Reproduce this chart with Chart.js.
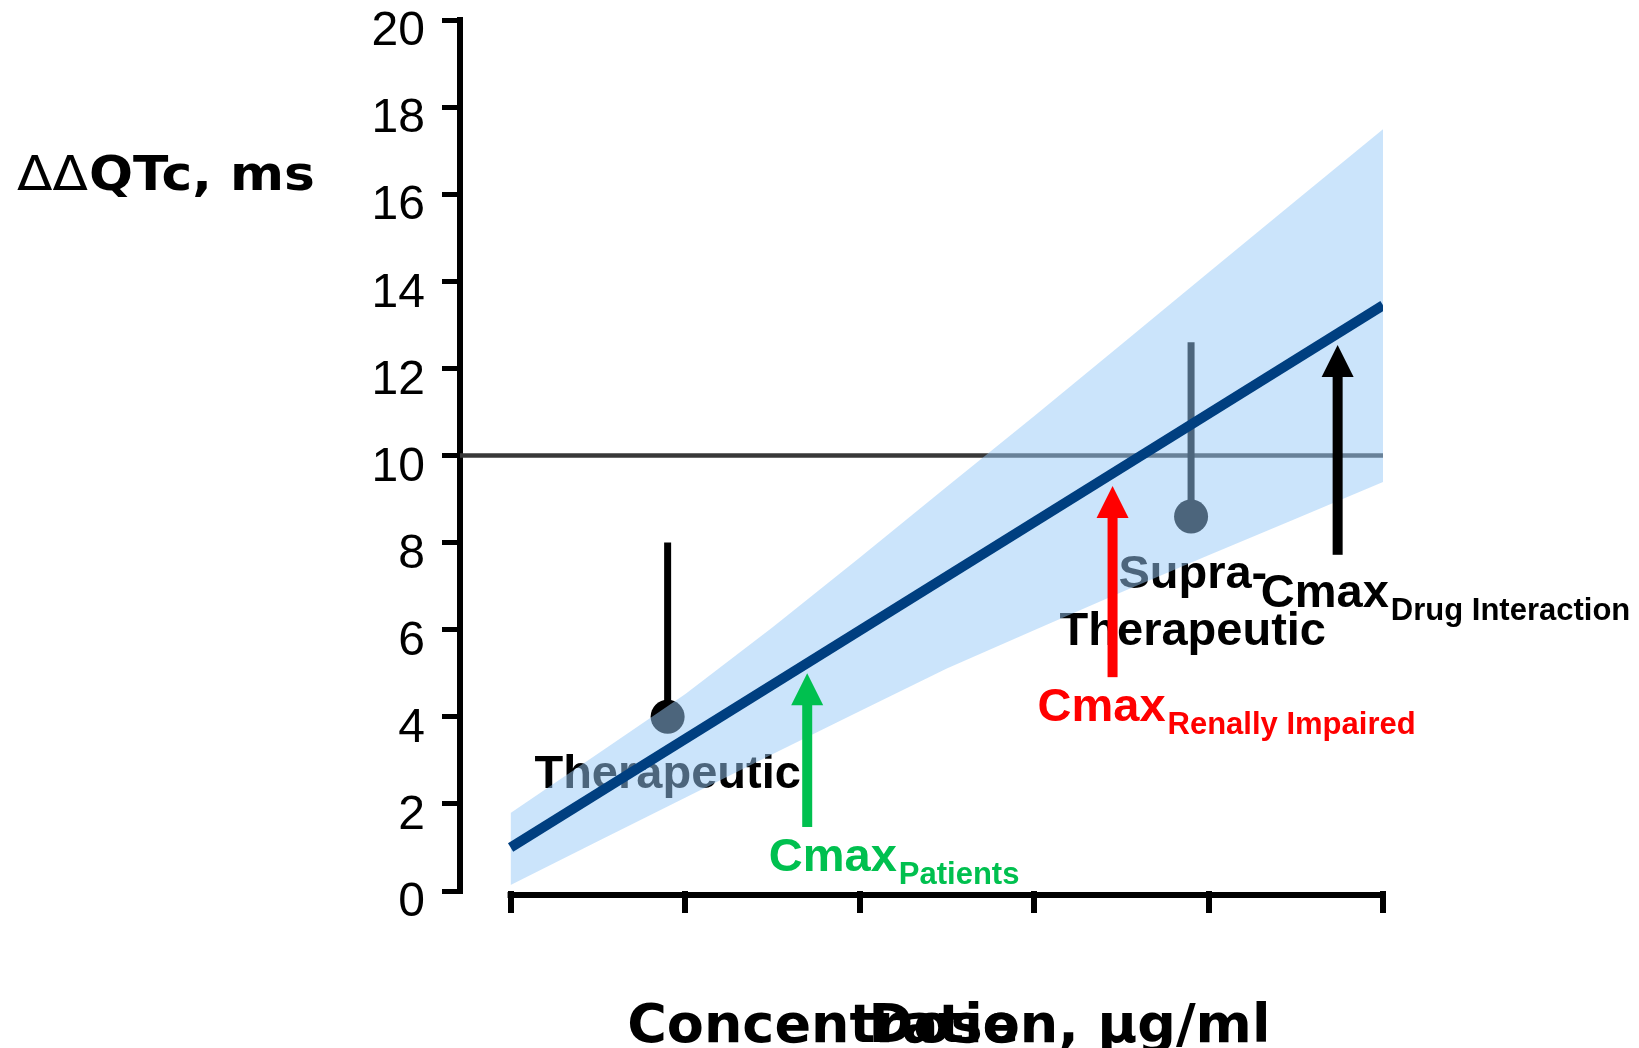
<!DOCTYPE html>
<html lang="en">
<head>
  <meta charset="UTF-8">
  <title>ΔΔQTc vs concentration</title>
  <style>
    html, body {
      margin: 0;
      padding: 0;
      background: #fff;
    }
    #wrap {
      width: 1639px;
      height: 1048px;
      position: relative;
    }
  </style>
</head>
<body>
  <div id="wrap"><canvas id="qtcChart"></canvas></div>

  <script src="https://cdn.jsdelivr.net/npm/chart.js"></script>
  <script>
    // axes: concentration has unlabelled ticks, ΔΔQTc in ms
    const xMin = -0.29;
    const xTicks = [0, 1, 2, 3, 4, 5];
    const yTicks = [0, 2, 4, 6, 8, 10, 12, 14, 16, 18, 20];

    // regression line and its confidence band
    const fitX = [0, 5];
    const fitY = [1.0, 13.45];
    const bandX = [0, 0.5, 1, 1.5, 2, 2.5, 3, 3.5, 4, 4.5, 5];
    const bandUpper = [1.79, 3.15, 4.52, 6.05, 7.65, 9.28, 10.90, 12.55, 14.20, 15.85, 17.49];
    const bandLower = [0.14, 1.14, 2.14, 3.14, 4.13, 5.11, 5.99, 6.86, 7.71, 8.55, 9.39];

    // 10 ms threshold
    const thresholdY = 10;

    // observed means with upper error bar
    const obsX = [0.9, 3.9];
    const obsY = [4.0, 8.6];
    const obsTop = [8.0, 12.6];

    // exposure labels under the band
    const exposureText = ['Therapeutic', 'Supra-', 'Therapeutic'];
    const exposureX = [0.9, 3.91, 3.91];
    const exposureY = [2.37, 6.96, 5.65];

    // Cmax arrows
    const cmaxSub = ['Patients', 'Renally Impaired', 'Drug Interaction'];
    const cmaxColor = ['#00c04f', '#ff0000', '#000000'];
    const cmaxX = [1.70, 3.45, 4.74];
    const cmaxFrom = [1.47, 4.91, 7.72];
    const cmaxTo = [5.0, 9.30, 12.54];
    const cmaxLabelX = [1.48, 3.02, 4.30];
    const cmaxLabelY = [0.46, 3.90, 6.52];

    const ARIAL = '"Liberation Sans", Arial, sans-serif';
    const VERDANA = '"DejaVu Sans", Verdana, sans-serif';

    const pts = (xs, ys) => xs.map((x, i) => ({ x, y: ys[i] }));

    const errorBars = obsX.map((x, i) => ({
      label: 'err' + i,
      data: [{ x, y: obsY[i] }, { x, y: obsTop[i] }],
      borderColor: '#000',
      borderWidth: 7,
      borderCapStyle: 'butt',
      pointRadius: 0,
      order: 9
    }));

    const annotations = {
      id: 'annotations',
      beforeDatasetsDraw(chart) {
        // these sit below the translucent band
        const { ctx, scales: { x, y } } = chart;
        ctx.save();
        ctx.fillStyle = '#000';
        ctx.font = 'bold 47px ' + ARIAL;
        ctx.textAlign = 'center';
        ctx.textBaseline = 'alphabetic';
        exposureText.forEach((t, i) => {
          ctx.fillText(t, x.getPixelForValue(exposureX[i]), y.getPixelForValue(exposureY[i]));
        });
        ctx.restore();
      },
      afterDatasetsDraw(chart) {
        const { ctx, scales: { x, y } } = chart;
        ctx.save();
        cmaxX.forEach((v, i) => {
          const px = x.getPixelForValue(v);
          const yb = y.getPixelForValue(cmaxFrom[i]);
          const yt = y.getPixelForValue(cmaxTo[i]);
          ctx.fillStyle = cmaxColor[i];
          ctx.fillRect(px - 5, yt + 30, 10, yb - yt - 30);
          ctx.beginPath();
          ctx.moveTo(px, yt);
          ctx.lineTo(px + 16, yt + 32);
          ctx.lineTo(px - 16, yt + 32);
          ctx.closePath();
          ctx.fill();

          const lx = x.getPixelForValue(cmaxLabelX[i]);
          const ly = y.getPixelForValue(cmaxLabelY[i]);
          ctx.textAlign = 'left';
          ctx.textBaseline = 'alphabetic';
          ctx.font = 'bold 47px ' + ARIAL;
          ctx.fillText('Cmax', lx, ly);
          const w = ctx.measureText('Cmax').width;
          ctx.font = 'bold 31px ' + ARIAL;
          ctx.fillText(cmaxSub[i], lx + w + 2, ly + 13);
        });

        // x axis line starts at the first tick, not at the y axis
        ctx.strokeStyle = '#000';
        ctx.lineWidth = 6;
        ctx.beginPath();
        ctx.moveTo(x.getPixelForValue(xTicks[0]) - 3, chart.chartArea.bottom + 4);
        ctx.lineTo(x.getPixelForValue(xTicks[xTicks.length - 1]) + 3, chart.chartArea.bottom + 4);
        ctx.stroke();
        ctx.restore();
      },
      afterDraw(chart) {
        const { ctx, scales: { x } } = chart;
        ctx.save();
        ctx.fillStyle = '#000';
        ctx.textBaseline = 'alphabetic';
        ctx.textAlign = 'left';

        // y title, slightly wide like the slide font
        ctx.translate(17, 190);
        ctx.scale(1.08, 1);
        ctx.font = '48px ' + VERDANA;
        ctx.fillText('\u0394\u0394', 0, 0);
        const dw = ctx.measureText('\u0394\u0394').width;
        ctx.font = 'bold 48px ' + VERDANA;
        ctx.fillText('QTc, ms', dw + 1, 0);
        ctx.setTransform(1, 0, 0, 1, 0, 0);

        // two titles left on top of each other, as in the slide
        const cx = x.getPixelForValue(2.5);
        ctx.font = 'bold 54px ' + VERDANA;
        ctx.textAlign = 'center';
        ctx.fillText('Concentration, \u03bcg/ml', cx + 2, 1042);
        ctx.fillText('Dose', cx - 3, 1042);
        ctx.restore();
      }
    };

    Chart.defaults.font.family = ARIAL;
    Chart.defaults.color = '#000';

    new Chart(document.getElementById('qtcChart'), {
      type: 'line',
      data: {
        datasets: [
          {
            label: 'threshold',
            data: [{ x: xMin, y: thresholdY }, { x: xTicks[xTicks.length - 1], y: thresholdY }],
            borderColor: '#383838',
            borderWidth: 4.5,
            pointRadius: 0,
            order: 10
          },
          ...errorBars,
          {
            label: 'observed',
            data: pts(obsX, obsY),
            showLine: false,
            pointRadius: 17,
            pointBackgroundColor: '#000',
            pointBorderWidth: 0,
            order: 8
          },
          {
            label: 'upper',
            data: pts(bandX, bandUpper),
            borderWidth: 0,
            borderColor: 'transparent',
            pointRadius: 0,
            fill: '+1',
            backgroundColor: 'rgba(152,201,247,0.5)',
            order: 5
          },
          {
            label: 'lower',
            data: pts(bandX, bandLower),
            borderWidth: 0,
            borderColor: 'transparent',
            pointRadius: 0,
            fill: false,
            order: 5
          },
          {
            label: 'fit',
            data: pts(fitX, fitY),
            borderColor: '#003f80',
            borderWidth: 10,
            borderCapStyle: 'butt',
            pointRadius: 0,
            order: 3
          }
        ]
      },
      options: {
        responsive: true,
        maintainAspectRatio: false,
        animation: false,
        layout: { padding: { top: 20, right: 256, left: 0, bottom: 0 } },
        plugins: {
          legend: { display: false },
          tooltip: { enabled: false }
        },
        scales: {
          x: {
            type: 'linear',
            min: xMin,
            max: xTicks[xTicks.length - 1],
            afterBuildTicks: s => { s.ticks = xTicks.map(v => ({ value: v })); },
            afterFit: s => { s.height = 157; },
            border: { display: false },
            grid: {
              drawOnChartArea: false,
              color: '#000',
              lineWidth: 6,
              tickLength: 22
            },
            ticks: { display: false }
          },
          y: {
            min: yTicks[0],
            max: yTicks[yTicks.length - 1],
            afterBuildTicks: s => { s.ticks = yTicks.map(v => ({ value: v })); },
            afterFit: s => { s.width = 460; },
            border: { display: true, color: '#000', width: 6 },
            grid: {
              drawOnChartArea: false,
              color: '#000',
              lineWidth: 5,
              tickLength: 18
            },
            ticks: {
              padding: 17,
              labelOffset: 12,
              color: '#000',
              font: { family: ARIAL, size: 48, lineHeight: 0.05 }
            }
          }
        }
      },
      plugins: [annotations]
    });
  </script>
</body>
</html>
